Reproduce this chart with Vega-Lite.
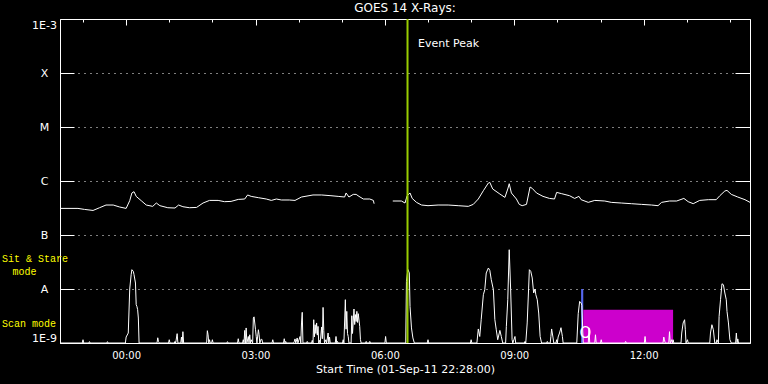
{
  "$schema": "https://vega.github.io/schema/vega-lite/v6.json",
  "width": 690,
  "height": 324,
  "autosize": {"type": "none"},
  "padding": {"left": 60, "top": 19, "right": 18, "bottom": 41},
  "background": "black",
  "title": {"text": "GOES 14 X-Rays:", "color": "white", "font": "DejaVu Sans", "fontSize": 12, "fontWeight": "normal", "anchor": "middle", "offset": 3},
  "config": {
    "view": {"stroke": "white", "strokeWidth": 1}
  },
  "datasets": {
    "obs": [
      {"kind": "flare", "t1": "2011-09-02T10:33", "t2": "2011-09-02T10:36", "lo": 1e-9, "hi": 1e-8},
      {"kind": "scan", "t1": "2011-09-02T10:36", "t2": "2011-09-02T12:41", "lo": 1e-9, "hi": 4.14e-9}
    ],
    "peak": [{"t": "2011-09-02T06:31:30", "label": "Event Peak"}],
    "notes": [{"start": "2011-09-01T22:28", "at": "2011-09-02T10:39", "a": "Sit & Stare", "b": "mode", "c": "Scan mode", "o": "O"}],
    "goes": [
      {"s":"U1","t":"2011-09-01T22:29","v":3.11e-7},
      {"s":"U1","t":"2011-09-01T22:53","v":3.11e-7},
      {"s":"U1","t":"2011-09-01T23:02","v":2.98e-7},
      {"s":"U1","t":"2011-09-01T23:14","v":2.85e-7},
      {"s":"U1","t":"2011-09-01T23:23","v":3.20e-7},
      {"s":"U1","t":"2011-09-01T23:32","v":3.59e-7},
      {"s":"U1","t":"2011-09-01T23:42","v":3.59e-7},
      {"s":"U1","t":"2011-09-01T23:51","v":3.30e-7},
      {"s":"U1","t":"2011-09-02T00:00","v":3.11e-7},
      {"s":"U1","t":"2011-09-02T00:05","v":4.32e-7},
      {"s":"U1","t":"2011-09-02T00:08","v":6.00e-7},
      {"s":"U1","t":"2011-09-02T00:11","v":6.34e-7},
      {"s":"U1","t":"2011-09-02T00:14","v":5.19e-7},
      {"s":"U1","t":"2011-09-02T00:21","v":4.32e-7},
      {"s":"U1","t":"2011-09-02T00:28","v":3.59e-7},
      {"s":"U1","t":"2011-09-02T00:37","v":3.39e-7},
      {"s":"U1","t":"2011-09-02T00:42","v":3.91e-7},
      {"s":"U1","t":"2011-09-02T00:47","v":3.49e-7},
      {"s":"U1","t":"2011-09-02T00:58","v":3.20e-7},
      {"s":"U1","t":"2011-09-02T01:08","v":3.16e-7},
      {"s":"U1","t":"2011-09-02T01:13","v":3.59e-7},
      {"s":"U1","t":"2011-09-02T01:19","v":3.34e-7},
      {"s":"U1","t":"2011-09-02T01:28","v":3.20e-7},
      {"s":"U1","t":"2011-09-02T01:38","v":3.24e-7},
      {"s":"U1","t":"2011-09-02T01:47","v":3.91e-7},
      {"s":"U1","t":"2011-09-02T01:56","v":4.37e-7},
      {"s":"U1","t":"2011-09-02T02:08","v":4.37e-7},
      {"s":"U1","t":"2011-09-02T02:17","v":4.14e-7},
      {"s":"U1","t":"2011-09-02T02:26","v":4.19e-7},
      {"s":"U1","t":"2011-09-02T02:36","v":4.56e-7},
      {"s":"U1","t":"2011-09-02T02:45","v":4.64e-7},
      {"s":"U1","t":"2011-09-02T02:49","v":5.51e-7},
      {"s":"U1","t":"2011-09-02T02:54","v":5.19e-7},
      {"s":"U1","t":"2011-09-02T03:04","v":4.91e-7},
      {"s":"U1","t":"2011-09-02T03:15","v":4.64e-7},
      {"s":"U1","t":"2011-09-02T03:22","v":4.37e-7},
      {"s":"U1","t":"2011-09-02T03:29","v":4.64e-7},
      {"s":"U1","t":"2011-09-02T03:36","v":4.45e-7},
      {"s":"U1","t":"2011-09-02T03:47","v":4.45e-7},
      {"s":"U1","t":"2011-09-02T03:55","v":4.37e-7},
      {"s":"U1","t":"2011-09-02T04:04","v":5.05e-7},
      {"s":"U1","t":"2011-09-02T04:20","v":5.51e-7},
      {"s":"U1","t":"2011-09-02T04:32","v":5.51e-7},
      {"s":"U1","t":"2011-09-02T04:45","v":5.34e-7},
      {"s":"U1","t":"2011-09-02T04:55","v":5.19e-7},
      {"s":"U1","t":"2011-09-02T05:04","v":5.05e-7},
      {"s":"U1","t":"2011-09-02T05:06","v":6.00e-7},
      {"s":"U1","t":"2011-09-02T05:10","v":5.05e-7},
      {"s":"U1","t":"2011-09-02T05:16","v":5.65e-7},
      {"s":"U1","t":"2011-09-02T05:20","v":5.65e-7},
      {"s":"U1","t":"2011-09-02T05:24","v":5.19e-7},
      {"s":"U1","t":"2011-09-02T05:30","v":4.64e-7},
      {"s":"U1","t":"2011-09-02T05:39","v":4.64e-7},
      {"s":"U1","t":"2011-09-02T05:44","v":4.37e-7},
      {"s":"U1","t":"2011-09-02T05:45","v":3.80e-7},
      {"s":"U2","t":"2011-09-02T06:11","v":4.26e-7},
      {"s":"U2","t":"2011-09-02T06:23","v":4.26e-7},
      {"s":"U2","t":"2011-09-02T06:28","v":3.91e-7},
      {"s":"U2","t":"2011-09-02T06:31","v":5.34e-7},
      {"s":"U2","t":"2011-09-02T06:35","v":6.00e-7},
      {"s":"U2","t":"2011-09-02T06:38","v":4.76e-7},
      {"s":"U2","t":"2011-09-02T06:44","v":4.02e-7},
      {"s":"U2","t":"2011-09-02T06:51","v":3.59e-7},
      {"s":"U2","t":"2011-09-02T07:00","v":3.49e-7},
      {"s":"U2","t":"2011-09-02T07:14","v":3.59e-7},
      {"s":"U2","t":"2011-09-02T07:28","v":3.59e-7},
      {"s":"U2","t":"2011-09-02T07:42","v":3.49e-7},
      {"s":"U2","t":"2011-09-02T07:56","v":3.39e-7},
      {"s":"U2","t":"2011-09-02T08:03","v":3.69e-7},
      {"s":"U2","t":"2011-09-02T08:10","v":4.64e-7},
      {"s":"U2","t":"2011-09-02T08:17","v":6.61e-7},
      {"s":"U2","t":"2011-09-02T08:24","v":9.18e-7},
      {"s":"U2","t":"2011-09-02T08:26","v":9.42e-7},
      {"s":"U2","t":"2011-09-02T08:30","v":7.11e-7},
      {"s":"U2","t":"2011-09-02T08:40","v":5.74e-7},
      {"s":"U2","t":"2011-09-02T08:47","v":4.97e-7},
      {"s":"U2","t":"2011-09-02T08:51","v":7.11e-7},
      {"s":"U2","t":"2011-09-02T08:53","v":8.91e-7},
      {"s":"U2","t":"2011-09-02T08:56","v":6.00e-7},
      {"s":"U2","t":"2011-09-02T09:03","v":4.64e-7},
      {"s":"U2","t":"2011-09-02T09:07","v":3.69e-7},
      {"s":"U2","t":"2011-09-02T09:11","v":3.49e-7},
      {"s":"U2","t":"2011-09-02T09:17","v":3.69e-7},
      {"s":"U2","t":"2011-09-02T09:22","v":7.74e-7},
      {"s":"U2","t":"2011-09-02T09:25","v":7.30e-7},
      {"s":"U2","t":"2011-09-02T09:31","v":6.00e-7},
      {"s":"U2","t":"2011-09-02T09:40","v":5.19e-7},
      {"s":"U2","t":"2011-09-02T09:49","v":4.76e-7},
      {"s":"U2","t":"2011-09-02T09:56","v":4.64e-7},
      {"s":"U2","t":"2011-09-02T09:59","v":6.15e-7},
      {"s":"U2","t":"2011-09-02T10:06","v":5.82e-7},
      {"s":"U2","t":"2011-09-02T10:17","v":5.34e-7},
      {"s":"U2","t":"2011-09-02T10:24","v":4.76e-7},
      {"s":"U2","t":"2011-09-02T10:30","v":5.19e-7},
      {"s":"U2","t":"2011-09-02T10:33","v":4.51e-7},
      {"s":"U2","t":"2011-09-02T10:43","v":4.02e-7},
      {"s":"U2","t":"2011-09-02T10:52","v":4.37e-7},
      {"s":"U2","t":"2011-09-02T11:06","v":4.26e-7},
      {"s":"U2","t":"2011-09-02T11:15","v":4.02e-7},
      {"s":"U2","t":"2011-09-02T11:29","v":3.91e-7},
      {"s":"U2","t":"2011-09-02T11:43","v":3.80e-7},
      {"s":"U2","t":"2011-09-02T11:57","v":3.69e-7},
      {"s":"U2","t":"2011-09-02T12:11","v":3.59e-7},
      {"s":"U2","t":"2011-09-02T12:20","v":3.49e-7},
      {"s":"U2","t":"2011-09-02T12:25","v":4.02e-7},
      {"s":"U2","t":"2011-09-02T12:36","v":4.26e-7},
      {"s":"U2","t":"2011-09-02T12:46","v":4.26e-7},
      {"s":"U2","t":"2011-09-02T12:56","v":4.76e-7},
      {"s":"U2","t":"2011-09-02T13:02","v":4.14e-7},
      {"s":"U2","t":"2011-09-02T13:09","v":3.80e-7},
      {"s":"U2","t":"2011-09-02T13:18","v":4.37e-7},
      {"s":"U2","t":"2011-09-02T13:30","v":4.51e-7},
      {"s":"U2","t":"2011-09-02T13:41","v":4.51e-7},
      {"s":"U2","t":"2011-09-02T13:46","v":5.34e-7},
      {"s":"U2","t":"2011-09-02T13:53","v":6.53e-7},
      {"s":"U2","t":"2011-09-02T13:56","v":6.70e-7},
      {"s":"U2","t":"2011-09-02T14:02","v":5.65e-7},
      {"s":"U2","t":"2011-09-02T14:11","v":5.05e-7},
      {"s":"U2","t":"2011-09-02T14:21","v":4.51e-7},
      {"s":"U2","t":"2011-09-02T14:28","v":4.02e-7},
      {"s":"L","t":"2011-09-01T22:28","v":1e-9},
      {"s":"L","t":"2011-09-01T22:59","v":1e-9},
      {"s":"L","t":"2011-09-01T23:00","v":1.15e-9},
      {"s":"L","t":"2011-09-01T23:01","v":1e-9},
      {"s":"L","t":"2011-09-01T23:08","v":1e-9},
      {"s":"L","t":"2011-09-01T23:09","v":1.06e-9},
      {"s":"L","t":"2011-09-01T23:10","v":1e-9},
      {"s":"L","t":"2011-09-01T23:33","v":1e-9},
      {"s":"L","t":"2011-09-01T23:34","v":1.06e-9},
      {"s":"L","t":"2011-09-01T23:35","v":1e-9},
      {"s":"L","t":"2011-09-01T23:59","v":1e-9},
      {"s":"L","t":"2011-09-02T00:00","v":1.29e-9},
      {"s":"L","t":"2011-09-02T00:03","v":1.53e-9},
      {"s":"L","t":"2011-09-02T00:05","v":1e-8},
      {"s":"L","t":"2011-09-02T00:07","v":1.84e-8},
      {"s":"L","t":"2011-09-02T00:08","v":2.28e-8},
      {"s":"L","t":"2011-09-02T00:10","v":2.12e-8},
      {"s":"L","t":"2011-09-02T00:11","v":1.84e-8},
      {"s":"L","t":"2011-09-02T00:13","v":1.29e-8},
      {"s":"L","t":"2011-09-02T00:14","v":5.12e-9},
      {"s":"L","t":"2011-09-02T00:15","v":4.76e-9},
      {"s":"L","t":"2011-09-02T00:16","v":4.14e-9},
      {"s":"L","t":"2011-09-02T00:17","v":2.9e-9},
      {"s":"L","t":"2011-09-02T00:18","v":1e-9},
      {"s":"L","t":"2011-09-02T00:43","v":1e-9},
      {"s":"L","t":"2011-09-02T00:44","v":1.25e-9},
      {"s":"L","t":"2011-09-02T00:45","v":1.07e-9},
      {"s":"L","t":"2011-09-02T00:46","v":1e-9},
      {"s":"L","t":"2011-09-02T00:59","v":1e-9},
      {"s":"L","t":"2011-09-02T01:00","v":1.15e-9},
      {"s":"L","t":"2011-09-02T01:01","v":1e-9},
      {"s":"L","t":"2011-09-02T01:07","v":1e-9},
      {"s":"L","t":"2011-09-02T01:08","v":1.07e-9},
      {"s":"L","t":"2011-09-02T01:09","v":1e-9},
      {"s":"L","t":"2011-09-02T01:10","v":1.24e-9},
      {"s":"L","t":"2011-09-02T01:11","v":1.49e-9},
      {"s":"L","t":"2011-09-02T01:12","v":1e-9},
      {"s":"L","t":"2011-09-02T01:16","v":1e-9},
      {"s":"L","t":"2011-09-02T01:17","v":1.29e-9},
      {"s":"L","t":"2011-09-02T01:18","v":1e-9},
      {"s":"L","t":"2011-09-02T01:19","v":1.62e-9},
      {"s":"L","t":"2011-09-02T01:20","v":1e-9},
      {"s":"L","t":"2011-09-02T01:52","v":1e-9},
      {"s":"L","t":"2011-09-02T01:53","v":1.69e-9},
      {"s":"L","t":"2011-09-02T01:54","v":1.42e-9},
      {"s":"L","t":"2011-09-02T01:55","v":1e-9},
      {"s":"L","t":"2011-09-02T01:56","v":1.15e-9},
      {"s":"L","t":"2011-09-02T01:57","v":1e-9},
      {"s":"L","t":"2011-09-02T01:59","v":1e-9},
      {"s":"L","t":"2011-09-02T02:00","v":1.15e-9},
      {"s":"L","t":"2011-09-02T02:01","v":1e-9},
      {"s":"L","t":"2011-09-02T02:20","v":1e-9},
      {"s":"L","t":"2011-09-02T02:21","v":1.06e-9},
      {"s":"L","t":"2011-09-02T02:22","v":1e-9},
      {"s":"L","t":"2011-09-02T02:35","v":1e-9},
      {"s":"L","t":"2011-09-02T02:36","v":1.2e-9},
      {"s":"L","t":"2011-09-02T02:37","v":1e-9},
      {"s":"L","t":"2011-09-02T02:42","v":1e-9},
      {"s":"L","t":"2011-09-02T02:43","v":1.15e-9},
      {"s":"L","t":"2011-09-02T02:44","v":1e-9},
      {"s":"L","t":"2011-09-02T02:45","v":1.71e-9},
      {"s":"L","t":"2011-09-02T02:46","v":1e-9},
      {"s":"L","t":"2011-09-02T02:47","v":1.9e-9},
      {"s":"L","t":"2011-09-02T02:48","v":1e-9},
      {"s":"L","t":"2011-09-02T02:50","v":1.32e-9},
      {"s":"L","t":"2011-09-02T02:51","v":1e-9},
      {"s":"L","t":"2011-09-02T02:52","v":1.42e-9},
      {"s":"L","t":"2011-09-02T02:53","v":1e-9},
      {"s":"L","t":"2011-09-02T02:54","v":1.15e-9},
      {"s":"L","t":"2011-09-02T02:56","v":1e-9},
      {"s":"L","t":"2011-09-02T02:57","v":2.9e-9},
      {"s":"L","t":"2011-09-02T02:58","v":3.05e-9},
      {"s":"L","t":"2011-09-02T03:00","v":1.76e-9},
      {"s":"L","t":"2011-09-02T03:01","v":1.32e-9},
      {"s":"L","t":"2011-09-02T03:02","v":1e-9},
      {"s":"L","t":"2011-09-02T03:04","v":1.76e-9},
      {"s":"L","t":"2011-09-02T03:05","v":1.42e-9},
      {"s":"L","t":"2011-09-02T03:06","v":1e-9},
      {"s":"L","t":"2011-09-02T03:08","v":1.19e-9},
      {"s":"L","t":"2011-09-02T03:09","v":1.15e-9},
      {"s":"L","t":"2011-09-02T03:10","v":1e-9},
      {"s":"L","t":"2011-09-02T03:23","v":1e-9},
      {"s":"L","t":"2011-09-02T03:24","v":1.15e-9},
      {"s":"L","t":"2011-09-02T03:25","v":1e-9},
      {"s":"L","t":"2011-09-02T03:39","v":1e-9},
      {"s":"L","t":"2011-09-02T03:40","v":1.2e-9},
      {"s":"L","t":"2011-09-02T03:41","v":1e-9},
      {"s":"L","t":"2011-09-02T03:42","v":1.07e-9},
      {"s":"L","t":"2011-09-02T03:43","v":1e-9},
      {"s":"L","t":"2011-09-02T03:53","v":1e-9},
      {"s":"L","t":"2011-09-02T03:54","v":1.07e-9},
      {"s":"L","t":"2011-09-02T03:55","v":1.19e-9},
      {"s":"L","t":"2011-09-02T03:56","v":1e-9},
      {"s":"L","t":"2011-09-02T03:58","v":1.24e-9},
      {"s":"L","t":"2011-09-02T03:59","v":1e-9},
      {"s":"L","t":"2011-09-02T04:02","v":1.32e-9},
      {"s":"L","t":"2011-09-02T04:03","v":1e-9},
      {"s":"L","t":"2011-09-02T04:04","v":2.35e-9},
      {"s":"L","t":"2011-09-02T04:05","v":3.7e-9},
      {"s":"L","t":"2011-09-02T04:06","v":1e-9},
      {"s":"L","t":"2011-09-02T04:11","v":1e-9},
      {"s":"L","t":"2011-09-02T04:12","v":1.07e-9},
      {"s":"L","t":"2011-09-02T04:13","v":1e-9},
      {"s":"L","t":"2011-09-02T04:18","v":1e-9},
      {"s":"L","t":"2011-09-02T04:19","v":1.12e-9},
      {"s":"L","t":"2011-09-02T04:20","v":1e-9},
      {"s":"L","t":"2011-09-02T04:21","v":2.7e-9},
      {"s":"L","t":"2011-09-02T04:22","v":1.3e-9},
      {"s":"L","t":"2011-09-02T04:23","v":2.18e-9},
      {"s":"L","t":"2011-09-02T04:24","v":1.5e-9},
      {"s":"L","t":"2011-09-02T04:25","v":2.35e-9},
      {"s":"L","t":"2011-09-02T04:26","v":1.4e-9},
      {"s":"L","t":"2011-09-02T04:27","v":2.03e-9},
      {"s":"L","t":"2011-09-02T04:28","v":1e-9},
      {"s":"L","t":"2011-09-02T04:29","v":1.12e-9},
      {"s":"L","t":"2011-09-02T04:30","v":1e-9},
      {"s":"L","t":"2011-09-02T04:32","v":1.98e-9},
      {"s":"L","t":"2011-09-02T04:33","v":1.2e-9},
      {"s":"L","t":"2011-09-02T04:34","v":4.56e-9},
      {"s":"L","t":"2011-09-02T04:35","v":1.71e-9},
      {"s":"L","t":"2011-09-02T04:36","v":1e-9},
      {"s":"L","t":"2011-09-02T04:38","v":1.15e-9},
      {"s":"L","t":"2011-09-02T04:39","v":1e-9},
      {"s":"L","t":"2011-09-02T04:41","v":1.53e-9},
      {"s":"L","t":"2011-09-02T04:42","v":1e-9},
      {"s":"L","t":"2011-09-02T04:43","v":1.29e-9},
      {"s":"L","t":"2011-09-02T04:44","v":1e-9},
      {"s":"L","t":"2011-09-02T04:51","v":1e-9},
      {"s":"L","t":"2011-09-02T04:52","v":1.32e-9},
      {"s":"L","t":"2011-09-02T04:53","v":1e-9},
      {"s":"L","t":"2011-09-02T04:54","v":1.07e-9},
      {"s":"L","t":"2011-09-02T04:55","v":1e-9},
      {"s":"L","t":"2011-09-02T05:01","v":1e-9},
      {"s":"L","t":"2011-09-02T05:02","v":1.15e-9},
      {"s":"L","t":"2011-09-02T05:03","v":1e-9},
      {"s":"L","t":"2011-09-02T05:05","v":6.34e-9},
      {"s":"L","t":"2011-09-02T05:06","v":1.8e-9},
      {"s":"L","t":"2011-09-02T05:07","v":3.85e-9},
      {"s":"L","t":"2011-09-02T05:08","v":1.5e-9},
      {"s":"L","t":"2011-09-02T05:09","v":1.32e-9},
      {"s":"L","t":"2011-09-02T05:10","v":1e-9},
      {"s":"L","t":"2011-09-02T05:13","v":1e-9},
      {"s":"L","t":"2011-09-02T05:14","v":3.2e-9},
      {"s":"L","t":"2011-09-02T05:15","v":1.5e-9},
      {"s":"L","t":"2011-09-02T05:17","v":4.26e-9},
      {"s":"L","t":"2011-09-02T05:18","v":2.2e-9},
      {"s":"L","t":"2011-09-02T05:19","v":3.36e-9},
      {"s":"L","t":"2011-09-02T05:20","v":2.5e-9},
      {"s":"L","t":"2011-09-02T05:21","v":3.85e-9},
      {"s":"L","t":"2011-09-02T05:22","v":2.4e-9},
      {"s":"L","t":"2011-09-02T05:23","v":3.49e-9},
      {"s":"L","t":"2011-09-02T05:25","v":2.03e-9},
      {"s":"L","t":"2011-09-02T05:26","v":1.15e-9},
      {"s":"L","t":"2011-09-02T05:27","v":1e-9},
      {"s":"L","t":"2011-09-02T05:33","v":1e-9},
      {"s":"L","t":"2011-09-02T05:34","v":1.07e-9},
      {"s":"L","t":"2011-09-02T05:35","v":1e-9},
      {"s":"L","t":"2011-09-02T05:38","v":1e-9},
      {"s":"L","t":"2011-09-02T05:39","v":1.07e-9},
      {"s":"L","t":"2011-09-02T05:40","v":1e-9},
      {"s":"L","t":"2011-09-02T06:00","v":1e-9},
      {"s":"L","t":"2011-09-02T06:01","v":1.32e-9},
      {"s":"L","t":"2011-09-02T06:02","v":1e-9},
      {"s":"L","t":"2011-09-02T06:29","v":1e-9},
      {"s":"L","t":"2011-09-02T06:30","v":1.38e-8},
      {"s":"L","t":"2011-09-02T06:32","v":2.3e-8},
      {"s":"L","t":"2011-09-02T06:34","v":1.98e-8},
      {"s":"L","t":"2011-09-02T06:35","v":4.76e-9},
      {"s":"L","t":"2011-09-02T06:37","v":1.9e-9},
      {"s":"L","t":"2011-09-02T06:39","v":1.24e-9},
      {"s":"L","t":"2011-09-02T06:41","v":1e-9},
      {"s":"L","t":"2011-09-02T06:59","v":1e-9},
      {"s":"L","t":"2011-09-02T07:00","v":1.15e-9},
      {"s":"L","t":"2011-09-02T07:01","v":1e-9},
      {"s":"L","t":"2011-09-02T07:59","v":1e-9},
      {"s":"L","t":"2011-09-02T08:00","v":1.15e-9},
      {"s":"L","t":"2011-09-02T08:01","v":1e-9},
      {"s":"L","t":"2011-09-02T08:08","v":1e-9},
      {"s":"L","t":"2011-09-02T08:10","v":1.82e-9},
      {"s":"L","t":"2011-09-02T08:12","v":1.32e-9},
      {"s":"L","t":"2011-09-02T08:14","v":2.7e-9},
      {"s":"L","t":"2011-09-02T08:17","v":7.84e-9},
      {"s":"L","t":"2011-09-02T08:19","v":9.7e-9},
      {"s":"L","t":"2011-09-02T08:21","v":1.98e-8},
      {"s":"L","t":"2011-09-02T08:24","v":2.45e-8},
      {"s":"L","t":"2011-09-02T08:26","v":2.21e-8},
      {"s":"L","t":"2011-09-02T08:28","v":1.49e-8},
      {"s":"L","t":"2011-09-02T08:31","v":9.7e-9},
      {"s":"L","t":"2011-09-02T08:33","v":2.7e-9},
      {"s":"L","t":"2011-09-02T08:35","v":1.76e-9},
      {"s":"L","t":"2011-09-02T08:37","v":1.15e-9},
      {"s":"L","t":"2011-09-02T08:40","v":1.71e-9},
      {"s":"L","t":"2011-09-02T08:42","v":1.32e-9},
      {"s":"L","t":"2011-09-02T08:44","v":1e-9},
      {"s":"L","t":"2011-09-02T08:48","v":1e-9},
      {"s":"L","t":"2011-09-02T08:49","v":2.03e-9},
      {"s":"L","t":"2011-09-02T08:51","v":6.34e-9},
      {"s":"L","t":"2011-09-02T08:53","v":5.34e-8},
      {"s":"L","t":"2011-09-02T08:55","v":9.7e-9},
      {"s":"L","t":"2011-09-02T08:57","v":1.15e-9},
      {"s":"L","t":"2011-09-02T08:58","v":1e-9},
      {"s":"L","t":"2011-09-02T09:01","v":1.32e-9},
      {"s":"L","t":"2011-09-02T09:02","v":1e-9},
      {"s":"L","t":"2011-09-02T09:14","v":1e-9},
      {"s":"L","t":"2011-09-02T09:15","v":1.07e-9},
      {"s":"L","t":"2011-09-02T09:16","v":1e-9},
      {"s":"L","t":"2011-09-02T09:18","v":2.35e-9},
      {"s":"L","t":"2011-09-02T09:20","v":1.04e-8},
      {"s":"L","t":"2011-09-02T09:21","v":2.28e-8},
      {"s":"L","t":"2011-09-02T09:23","v":2.12e-8},
      {"s":"L","t":"2011-09-02T09:25","v":1.6e-8},
      {"s":"L","t":"2011-09-02T09:27","v":8.43e-9},
      {"s":"L","t":"2011-09-02T09:29","v":1e-8},
      {"s":"L","t":"2011-09-02T09:30","v":7.84e-9},
      {"s":"L","t":"2011-09-02T09:32","v":6.34e-9},
      {"s":"L","t":"2011-09-02T09:34","v":3.59e-9},
      {"s":"L","t":"2011-09-02T09:36","v":1.32e-9},
      {"s":"L","t":"2011-09-02T09:38","v":1e-9},
      {"s":"L","t":"2011-09-02T09:45","v":1e-9},
      {"s":"L","t":"2011-09-02T09:46","v":1.07e-9},
      {"s":"L","t":"2011-09-02T09:47","v":1e-9},
      {"s":"L","t":"2011-09-02T09:50","v":1e-9},
      {"s":"L","t":"2011-09-02T09:51","v":1.32e-9},
      {"s":"L","t":"2011-09-02T09:52","v":1.82e-9},
      {"s":"L","t":"2011-09-02T09:54","v":1.24e-9},
      {"s":"L","t":"2011-09-02T09:55","v":1e-9},
      {"s":"L","t":"2011-09-02T09:58","v":1e-9},
      {"s":"L","t":"2011-09-02T09:59","v":1.15e-9},
      {"s":"L","t":"2011-09-02T10:00","v":1e-9},
      {"s":"L","t":"2011-09-02T10:01","v":1.29e-9},
      {"s":"L","t":"2011-09-02T10:03","v":1.53e-9},
      {"s":"L","t":"2011-09-02T10:05","v":1.92e-9},
      {"s":"L","t":"2011-09-02T10:07","v":1.32e-9},
      {"s":"L","t":"2011-09-02T10:08","v":1e-9},
      {"s":"L","t":"2011-09-02T10:27","v":1e-9},
      {"s":"L","t":"2011-09-02T10:29","v":3.49e-9},
      {"s":"L","t":"2011-09-02T10:31","v":5.89e-9},
      {"s":"L","t":"2011-09-02T10:33","v":5.51e-9},
      {"s":"L","t":"2011-09-02T10:34","v":5e-9},
      {"s":"L","t":"2011-09-02T10:36","v":1e-9},
      {"s":"L","t":"2011-09-02T10:43","v":1e-9},
      {"s":"L","t":"2011-09-02T10:44","v":1.9e-9},
      {"s":"L","t":"2011-09-02T10:45","v":1e-9},
      {"s":"L","t":"2011-09-02T10:52","v":1e-9},
      {"s":"L","t":"2011-09-02T10:53","v":1.42e-9},
      {"s":"L","t":"2011-09-02T10:54","v":1e-9},
      {"s":"L","t":"2011-09-02T11:00","v":1e-9},
      {"s":"L","t":"2011-09-02T11:01","v":1.15e-9},
      {"s":"L","t":"2011-09-02T11:02","v":1e-9},
      {"s":"L","t":"2011-09-02T11:34","v":1e-9},
      {"s":"L","t":"2011-09-02T11:35","v":1.07e-9},
      {"s":"L","t":"2011-09-02T11:36","v":1e-9},
      {"s":"L","t":"2011-09-02T12:01","v":1e-9},
      {"s":"L","t":"2011-09-02T12:02","v":1.32e-9},
      {"s":"L","t":"2011-09-02T12:03","v":1e-9},
      {"s":"L","t":"2011-09-02T12:27","v":1e-9},
      {"s":"L","t":"2011-09-02T12:28","v":1.29e-9},
      {"s":"L","t":"2011-09-02T12:29","v":1.15e-9},
      {"s":"L","t":"2011-09-02T12:30","v":1e-9},
      {"s":"L","t":"2011-09-02T12:35","v":1e-9},
      {"s":"L","t":"2011-09-02T12:36","v":1.62e-9},
      {"s":"L","t":"2011-09-02T12:37","v":1e-9},
      {"s":"L","t":"2011-09-02T12:39","v":1.15e-9},
      {"s":"L","t":"2011-09-02T12:40","v":1e-9},
      {"s":"L","t":"2011-09-02T12:41","v":1.15e-9},
      {"s":"L","t":"2011-09-02T12:42","v":1e-9},
      {"s":"L","t":"2011-09-02T12:52","v":1e-9},
      {"s":"L","t":"2011-09-02T12:53","v":1.53e-9},
      {"s":"L","t":"2011-09-02T12:55","v":2.35e-9},
      {"s":"L","t":"2011-09-02T12:57","v":2.7e-9},
      {"s":"L","t":"2011-09-02T12:58","v":1.76e-9},
      {"s":"L","t":"2011-09-02T12:59","v":1e-9},
      {"s":"L","t":"2011-09-02T13:01","v":1.15e-9},
      {"s":"L","t":"2011-09-02T13:02","v":1e-9},
      {"s":"L","t":"2011-09-02T13:32","v":1e-9},
      {"s":"L","t":"2011-09-02T13:33","v":1.53e-9},
      {"s":"L","t":"2011-09-02T13:35","v":2.18e-9},
      {"s":"L","t":"2011-09-02T13:37","v":1.76e-9},
      {"s":"L","t":"2011-09-02T13:39","v":1e-9},
      {"s":"L","t":"2011-09-02T13:41","v":1e-9},
      {"s":"L","t":"2011-09-02T13:42","v":1.15e-9},
      {"s":"L","t":"2011-09-02T13:44","v":1e-9},
      {"s":"L","t":"2011-09-02T13:45","v":3.11e-9},
      {"s":"L","t":"2011-09-02T13:47","v":6.34e-9},
      {"s":"L","t":"2011-09-02T13:49","v":1.25e-8},
      {"s":"L","t":"2011-09-02T13:51","v":1.2e-8},
      {"s":"L","t":"2011-09-02T13:53","v":8.43e-9},
      {"s":"L","t":"2011-09-02T13:55","v":6.34e-9},
      {"s":"L","t":"2011-09-02T13:56","v":3.85e-9},
      {"s":"L","t":"2011-09-02T13:58","v":2.35e-9},
      {"s":"L","t":"2011-09-02T14:00","v":1.15e-9},
      {"s":"L","t":"2011-09-02T14:02","v":1e-9},
      {"s":"L","t":"2011-09-02T14:08","v":1e-9},
      {"s":"L","t":"2011-09-02T14:09","v":1.53e-9},
      {"s":"L","t":"2011-09-02T14:10","v":1e-9},
      {"s":"L","t":"2011-09-02T14:11","v":1.19e-9},
      {"s":"L","t":"2011-09-02T14:12","v":1e-9},
      {"s":"L","t":"2011-09-02T14:28","v":1e-9}
    ]
  },
  "layer": [
    {
      "data": {"name": "obs"},
      "mark": {"type": "rect"},
      "encoding": {
        "x": {
          "field": "t1", "type": "temporal",
          "axis": {"orient": "top", "labels": false, "domain": false, "grid": false, "title": null, "tickColor": "white",
                   "values": [
                     {"year": 2011, "month": 9, "date": 1, "hours": 23},
                     {"year": 2011, "month": 9, "date": 2, "hours": 0},
                     {"year": 2011, "month": 9, "date": 2, "hours": 1},
                     {"year": 2011, "month": 9, "date": 2, "hours": 2},
                     {"year": 2011, "month": 9, "date": 2, "hours": 3},
                     {"year": 2011, "month": 9, "date": 2, "hours": 4},
                     {"year": 2011, "month": 9, "date": 2, "hours": 5},
                     {"year": 2011, "month": 9, "date": 2, "hours": 6},
                     {"year": 2011, "month": 9, "date": 2, "hours": 7},
                     {"year": 2011, "month": 9, "date": 2, "hours": 8},
                     {"year": 2011, "month": 9, "date": 2, "hours": 9},
                     {"year": 2011, "month": 9, "date": 2, "hours": 10},
                     {"year": 2011, "month": 9, "date": 2, "hours": 11},
                     {"year": 2011, "month": 9, "date": 2, "hours": 12},
                     {"year": 2011, "month": 9, "date": 2, "hours": 13},
                     {"year": 2011, "month": 9, "date": 2, "hours": 14}
                   ],
                   "tickSize": {"condition": {"test": "hours(datum.value) % 3 === 0", "value": -6}, "value": -3}}
        },
        "x2": {"field": "t2"},
        "y": {
          "field": "lo", "type": "quantitative",
          "axis": {"orient": "right", "labels": false, "domain": false, "grid": false, "title": null, "values": [1e-9, 1e-8, 1e-7, 1e-6, 1e-5, 1e-4, 1e-3], "tickColor": "white", "tickSize": -15}
        },
        "y2": {"field": "hi"},
        "color": {"field": "kind", "type": "nominal", "scale": {"domain": ["flare", "scan"], "range": ["#5566EE", "#CC00CC"]}, "legend": null}
      }
    },
    {
      "data": {"name": "goes"},
      "mark": {"type": "line", "color": "white", "strokeWidth": 1},
      "encoding": {
        "x": {
          "field": "t", "type": "temporal",
          "scale": {"domain": [{"year": 2011, "month": 9, "date": 1, "hours": 22, "minutes": 28}, {"year": 2011, "month": 9, "date": 2, "hours": 14, "minutes": 28}], "nice": false},
          "axis": {"orient": "bottom", "format": "%H:%M", "tickCount": 6, "ticks": false, "domain": false, "grid": false, "labelFlush": false, "labelColor": "white", "labelFont": "DejaVu Sans", "labelFontSize": 10, "labelPadding": 7, "title": "Start Time (01-Sep-11 22:28:00)", "titleColor": "white", "titleFont": "DejaVu Sans", "titleFontSize": 11, "titleFontWeight": "normal", "titlePadding": 3}
        },
        "y": {
          "field": "v", "type": "quantitative",
          "scale": {"type": "log", "domain": [1e-9, 1e-3], "nice": false},
          "axis": {"orient": "left", "values": [1e-9, 1e-8, 1e-7, 1e-6, 1e-5, 1e-4, 1e-3], "labelExpr": "datum.value < 0.000000003 ? '1E-9' : datum.value < 0.00000003 ? 'A' : datum.value < 0.0000003 ? 'B' : datum.value < 0.000003 ? 'C' : datum.value < 0.00003 ? 'M' : datum.value < 0.0003 ? 'X' : '1E-3'", "labelFlush": true, "labelAlign": "center", "labelPadding": 30, "labelColor": "white", "labelFont": "DejaVu Sans", "labelFontSize": 11, "ticks": true, "tickSize": -14, "tickColor": "white", "domain": false, "grid": true, "gridColor": "white", "gridDash": [1, 5], "gridWidth": 1, "title": null}
        },
        "detail": {"field": "s", "type": "nominal"}
      }
    },
    {
      "data": {"name": "peak"},
      "mark": {"type": "rule", "color": "#99CC00", "strokeWidth": 2},
      "encoding": {
        "x": {"field": "t", "type": "temporal", "axis": null}
      }
    },
    {
      "data": {"name": "peak"},
      "mark": {"type": "text", "color": "white", "align": "left", "baseline": "alphabetic", "dx": 10.5, "font": "DejaVu Sans", "fontSize": 11},
      "encoding": {
        "x": {"field": "t", "type": "temporal", "axis": null},
        "y": {"datum": 3.09e-4, "type": "quantitative", "axis": null},
        "text": {"field": "label", "type": "nominal"}
      }
    },
    {
      "data": {"name": "notes"},
      "mark": {"type": "text", "color": "#FFFF00", "align": "left", "baseline": "alphabetic", "dx": -58, "font": "Liberation Mono", "fontSize": 10},
      "encoding": {
        "x": {"field": "start", "type": "temporal", "axis": null},
        "y": {"datum": 3.1e-8, "type": "quantitative", "axis": null},
        "text": {"field": "a", "type": "nominal"}
      }
    },
    {
      "data": {"name": "notes"},
      "mark": {"type": "text", "color": "#FFFF00", "align": "left", "baseline": "alphabetic", "dx": -47.5, "font": "Liberation Mono", "fontSize": 10},
      "encoding": {
        "x": {"field": "start", "type": "temporal", "axis": null},
        "y": {"datum": 1.83e-8, "type": "quantitative", "axis": null},
        "text": {"field": "b", "type": "nominal"}
      }
    },
    {
      "data": {"name": "notes"},
      "mark": {"type": "text", "color": "#FFFF00", "align": "left", "baseline": "alphabetic", "dx": -58, "font": "Liberation Mono", "fontSize": 10},
      "encoding": {
        "x": {"field": "start", "type": "temporal", "axis": null},
        "y": {"datum": 1.94e-9, "type": "quantitative", "axis": null},
        "text": {"field": "c", "type": "nominal"}
      }
    },
    {
      "data": {"name": "notes"},
      "mark": {"type": "text", "color": "white", "align": "center", "baseline": "middle", "font": "DejaVu Sans", "fontSize": 15},
      "encoding": {
        "x": {"field": "at", "type": "temporal", "axis": null},
        "y": {"datum": 1.55e-9, "type": "quantitative", "axis": null},
        "text": {"field": "o", "type": "nominal"}
      }
    }
  ],
  "resolve": {"axis": {"x": "independent", "y": "independent"}}
}
